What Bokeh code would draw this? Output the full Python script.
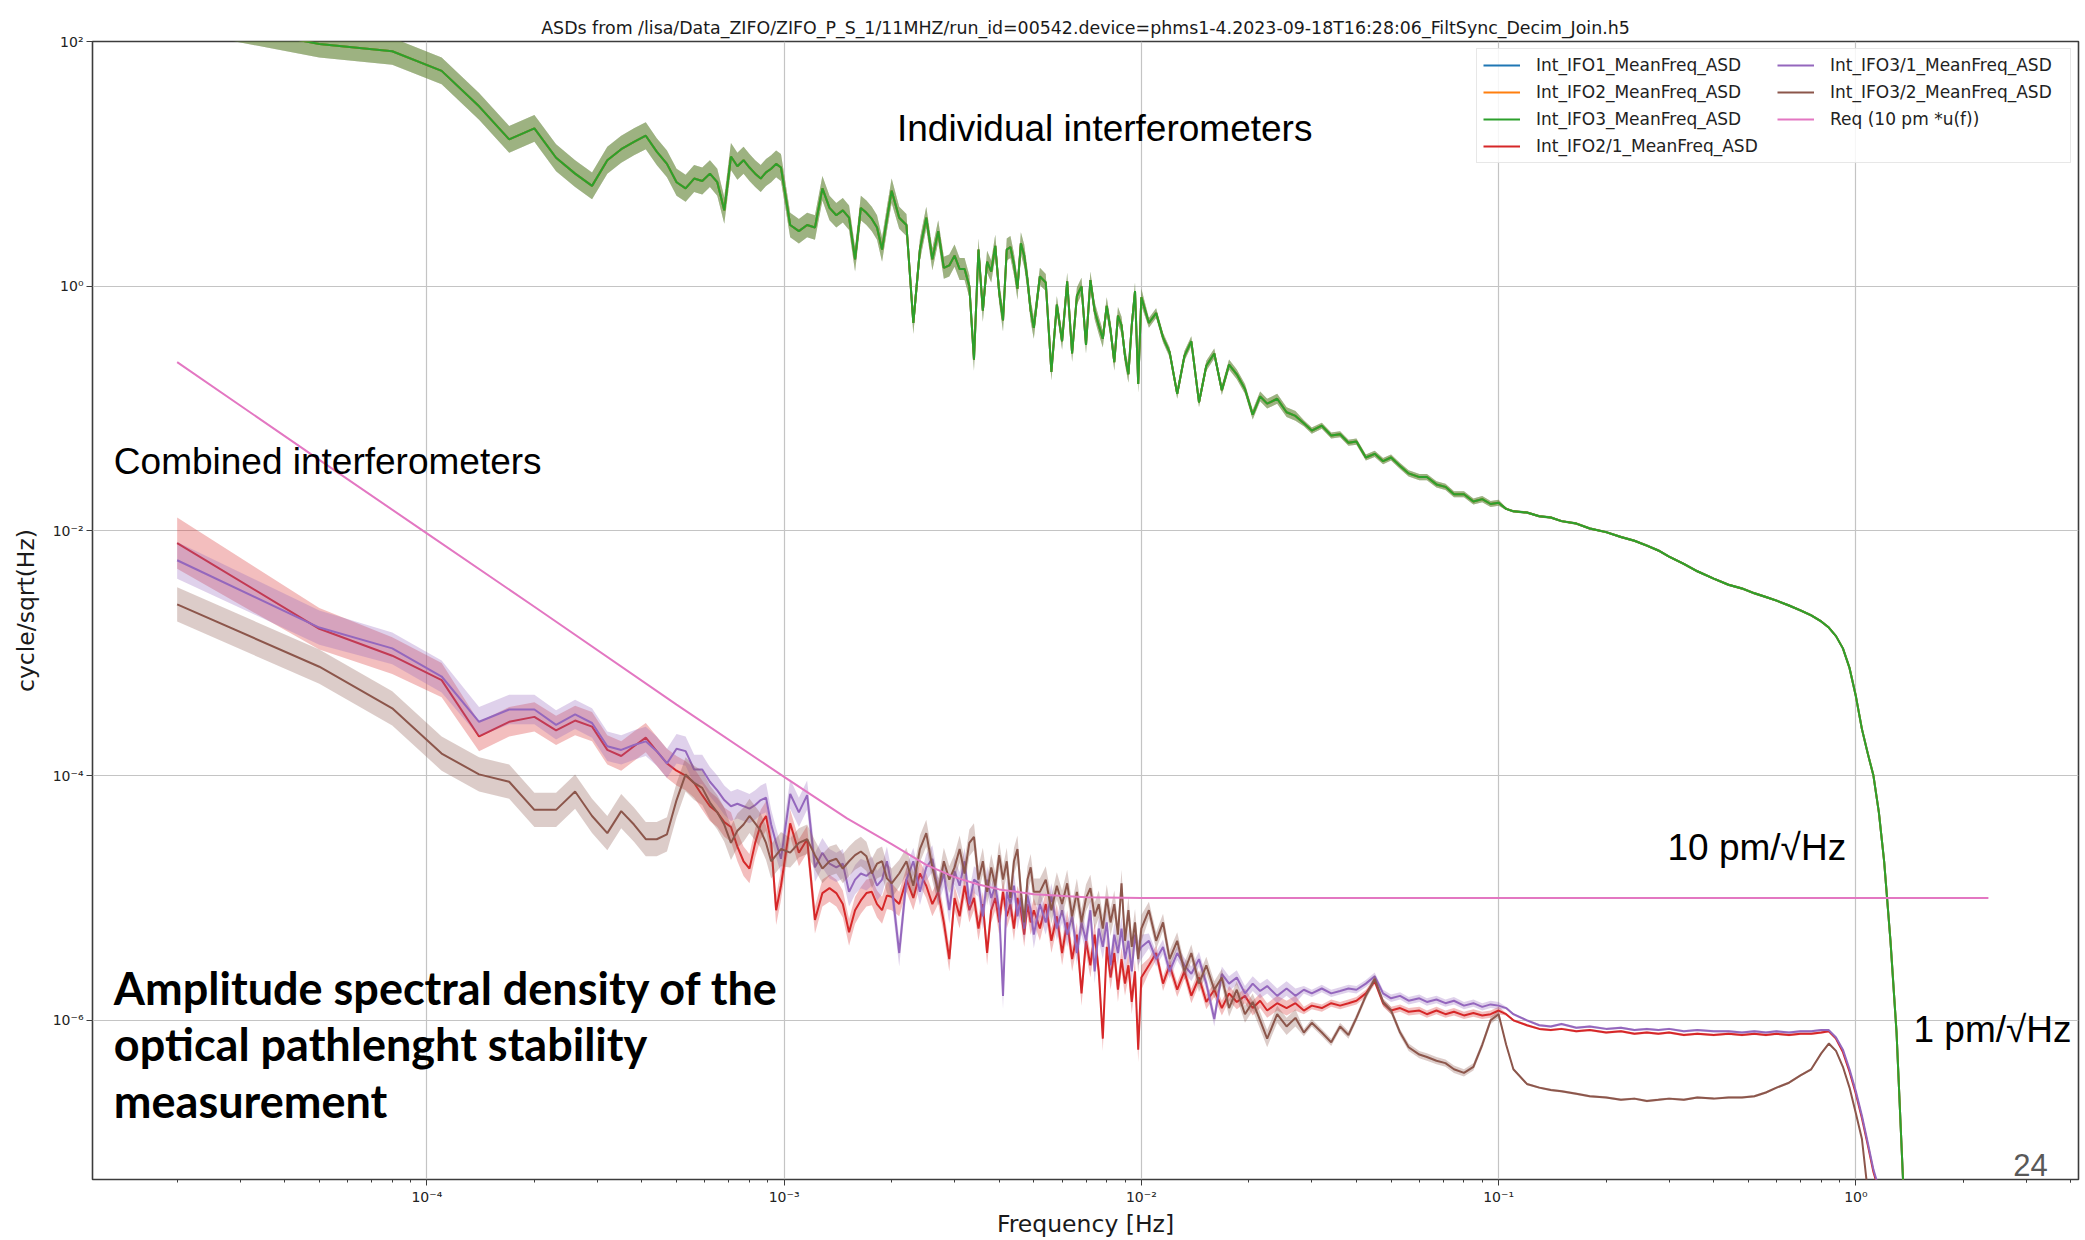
import numpy as np
from bokeh.plotting import figure
from bokeh.models import (FixedTicker, CustomJSTickFormatter, Label, Legend,
                          LegendItem, Range1d)
from bokeh.embed import file_html
from bokeh.resources import INLINE

# ---------------------------------------------------------------- data
# frequency bins [Hz]
FREQ = [
    # 2e-5 .. 1e-3
    2.0e-5, 5.0e-5, 8.0e-5, 1.1e-4, 1.4e-4, 1.7e-4, 2.0e-4, 2.3e-4, 2.6e-4, 2.9e-4,
    3.2e-4, 3.5e-4, 3.8e-4, 4.1e-4, 4.4e-4, 4.7e-4, 5.0e-4, 5.3e-4, 5.6e-4, 5.9e-4,
    6.2e-4, 6.5e-4, 6.8e-4, 7.1e-4, 7.4e-4, 7.7e-4, 8.0e-4, 8.3e-4, 8.6e-4, 8.9e-4,
    9.2e-4, 9.5e-4, 9.8e-4,
    # 1e-3 .. 2e-3
    1.04e-3, 1.10e-3, 1.16e-3, 1.22e-3, 1.28e-3, 1.34e-3, 1.40e-3, 1.46e-3, 1.52e-3,
    1.58e-3, 1.64e-3, 1.70e-3, 1.76e-3, 1.82e-3, 1.88e-3, 1.94e-3, 2.00e-3,
    # 2e-3 .. 5e-3
    2.1e-3, 2.2e-3, 2.3e-3, 2.4e-3, 2.5e-3, 2.6e-3, 2.7e-3, 2.8e-3, 2.9e-3, 3.0e-3,
    3.1e-3, 3.2e-3, 3.3e-3, 3.4e-3, 3.5e-3, 3.6e-3, 3.7e-3, 3.8e-3, 3.9e-3, 4.0e-3,
    4.1e-3, 4.2e-3, 4.3e-3, 4.4e-3, 4.5e-3, 4.6e-3, 4.7e-3, 4.8e-3, 4.9e-3, 5.0e-3,
    # 5e-3 .. 1e-2
    5.2e-3, 5.4e-3, 5.6e-3, 5.8e-3, 6.0e-3, 6.2e-3, 6.4e-3, 6.6e-3, 6.8e-3, 7.0e-3,
    7.2e-3, 7.4e-3, 7.6e-3, 7.8e-3, 8.0e-3, 8.2e-3, 8.4e-3, 8.6e-3, 8.8e-3, 9.0e-3,
    9.2e-3, 9.4e-3, 9.6e-3, 9.8e-3, 1.0e-2,
    # 1e-2 .. 1e-1
    1.05e-2, 1.1e-2, 1.15e-2, 1.2e-2, 1.26e-2, 1.32e-2, 1.38e-2, 1.45e-2, 1.52e-2, 1.6e-2,
    1.68e-2, 1.76e-2, 1.85e-2, 1.95e-2, 2.05e-2, 2.15e-2, 2.25e-2, 2.4e-2, 2.55e-2, 2.7e-2,
    2.85e-2, 3.0e-2, 3.2e-2, 3.4e-2, 3.6e-2, 3.8e-2, 4.0e-2, 4.25e-2, 4.5e-2, 4.75e-2,
    5.0e-2, 5.3e-2, 5.6e-2, 6.0e-2, 6.3e-2, 6.7e-2, 7.1e-2, 7.5e-2, 8.0e-2, 8.5e-2,
    9.0e-2, 9.5e-2, 1.0e-1,
    # 1e-1 .. 1.4
    0.105, 0.11, 0.12, 0.13, 0.14, 0.15, 0.165, 0.18, 0.2, 0.22,
    0.24, 0.26, 0.28, 0.3, 0.33, 0.36, 0.4, 0.44, 0.48, 0.52,
    0.56, 0.6, 0.65, 0.7, 0.75, 0.8, 0.84, 0.88, 0.92, 0.96,
    1.0, 1.04, 1.08, 1.12, 1.16, 1.2, 1.25, 1.3, 1.36, 1.42,
]

# ASD values, given as log10(cycle/sqrt(Hz))
IFO3_LOG = [
    2.20, 1.98, 1.92, 1.76, 1.47, 1.20, 1.29, 1.05, 0.92, 0.82,
    1.03, 1.12, 1.18, 1.23, 1.10, 1.00, 0.85, 0.80, 0.88, 0.86,
    0.92, 0.85, 0.62, 1.06, 0.98, 1.03, 0.97, 0.92, 0.88, 0.93,
    0.96, 1.00, 0.97,
    0.50, 0.45, 0.50, 0.48, 0.80, 0.64, 0.58, 0.62, 0.56, 0.22,
    0.64, 0.60, 0.55, 0.48, 0.30, 0.55, 0.78,
    0.56, 0.50, -0.30, 0.30, 0.56, 0.22, 0.45, 0.15, 0.17, 0.25,
    0.14, 0.14, 0.00, -0.60, 0.30, -0.20, 0.20, 0.12, 0.33, -0.05,
    -0.28, 0.30, 0.32, 0.18, -0.02, 0.35, 0.25, 0.05, -0.20, -0.34,
    0.08, 0.03, -0.70, -0.15, -0.45, 0.04, -0.55, -0.08, 0.00, -0.48,
    0.05, -0.20, -0.32, -0.43, -0.16, -0.36, -0.62, -0.24, -0.32, -0.57,
    -0.72, -0.32, -0.04, -0.80, -0.09,
    -0.30, -0.22, -0.42, -0.54, -0.88, -0.57, -0.45, -0.95, -0.65, -0.55,
    -0.85, -0.64, -0.72, -0.84, -1.05, -0.90, -0.96, -0.92, -1.03, -1.06,
    -1.12, -1.18, -1.14, -1.22, -1.21, -1.28, -1.27, -1.40, -1.37, -1.43,
    -1.40, -1.47, -1.53, -1.56, -1.56, -1.62, -1.64, -1.70, -1.70, -1.76,
    -1.74, -1.78, -1.77,
    -1.82, -1.84, -1.85, -1.88, -1.89, -1.92, -1.94, -1.98, -2.01, -2.05,
    -2.08, -2.12, -2.16, -2.21, -2.27, -2.33, -2.39, -2.44, -2.47, -2.51,
    -2.54, -2.57, -2.61, -2.65, -2.69, -2.74, -2.79, -2.86, -2.96, -3.12,
    -3.35, -3.62, -3.82, -4.00, -4.30, -4.70, -5.35, -6.10, -7.40, -8.30,
]
# IFO1 and IFO2 coincide with IFO3 and lie hidden beneath it
IFO1_LOG = list(IFO3_LOG)
IFO2_LOG = list(IFO3_LOG)

IFO21_LOG = [
    -2.10, -2.80, -3.02, -3.22, -3.68, -3.56, -3.52, -3.63, -3.55, -3.60,
    -3.79, -3.84, -3.76, -3.69, -3.80, -3.90, -3.96, -4.00, -4.06, -4.16,
    -4.25, -4.30, -4.38, -4.42, -4.58, -4.70, -4.76, -4.55, -4.40, -4.33,
    -4.55, -5.10, -4.90,
    -4.39, -4.63, -4.52, -5.18, -4.96, -4.92, -4.96, -5.05, -5.28, -5.10,
    -5.02, -4.96, -4.95, -5.05, -5.10, -4.98, -4.99,
    -5.05, -4.85, -5.00, -4.80, -4.90, -5.05, -4.95, -5.20, -5.50, -5.00,
    -5.15, -4.90, -5.10, -5.00, -5.25, -5.05, -5.45, -5.10, -5.00, -5.20,
    -4.95, -5.15, -5.05, -5.25, -5.00, -5.10, -5.30, -5.05, -5.20, -5.10,
    -5.25, -5.05, -5.35, -5.15, -5.45, -5.20, -5.50, -5.30, -5.78, -5.35,
    -5.55, -5.30, -5.60, -6.15, -5.40, -5.65, -5.45, -5.75, -5.50, -5.70,
    -5.55, -5.85, -5.60, -6.24, -5.65,
    -5.55, -5.45, -5.70, -5.55, -5.75, -5.60, -5.80, -5.65, -5.85, -5.75,
    -5.90, -5.78, -5.85, -5.80, -5.90, -5.84, -5.92, -5.86, -5.90, -5.86,
    -5.92, -5.88, -5.90, -5.86, -5.88, -5.86, -5.84, -5.78, -5.68, -5.86,
    -5.92, -5.90, -5.93, -5.92, -5.95, -5.92, -5.95, -5.93, -5.96, -5.94,
    -5.96, -5.95, -5.92,
    -5.95, -6.00, -6.04, -6.07, -6.08, -6.07, -6.09, -6.08, -6.10, -6.09,
    -6.11, -6.10, -6.11, -6.10, -6.12, -6.11, -6.12, -6.11, -6.12, -6.11,
    -6.12, -6.11, -6.12, -6.11, -6.11, -6.10, -6.09, -6.15, -6.26, -6.42,
    -6.60, -6.80, -7.02, -7.24, -7.39, -7.57, -7.80, -8.00, -8.20, -8.40,
]

IFO31_LOG = [
    -2.24, -2.79, -2.96, -3.19, -3.56, -3.46, -3.46, -3.585, -3.50, -3.57,
    -3.76, -3.79, -3.75, -3.72, -3.80, -3.90, -3.78, -3.80, -3.95, -3.95,
    -4.05, -4.12, -4.20, -4.25, -4.23, -4.25, -4.27, -4.24, -4.20, -4.18,
    -4.40, -4.55, -4.68,
    -4.15, -4.30, -4.16, -4.75, -4.63, -4.72, -4.75, -4.72, -4.95, -4.85,
    -4.80, -4.82, -4.78, -4.90, -4.85, -4.70, -4.90,
    -5.45, -4.85, -4.70, -4.95, -4.75, -4.68, -4.95, -4.80, -5.10, -4.78,
    -4.90, -4.70, -5.05, -4.85, -4.88, -5.15, -4.85, -5.00, -4.90, -5.10,
    -5.80, -4.95, -5.05, -4.90, -5.15, -5.00, -5.25, -4.98, -5.10, -5.30,
    -5.05, -5.20, -4.98, -5.25, -5.10, -5.30, -5.15, -5.45, -5.20, -5.35,
    -5.10, -5.60, -5.25, -5.40, -5.20, -5.55, -5.30, -5.45, -5.25, -5.50,
    -5.35, -5.60, -5.30, -5.45, -5.40,
    -5.35, -5.50, -5.40, -5.60, -5.45, -5.55, -5.62, -5.50, -5.70, -5.99,
    -5.62, -5.70, -5.65, -5.78, -5.70, -5.76, -5.72, -5.80, -5.74, -5.80,
    -5.75, -5.78, -5.74, -5.78, -5.76, -5.74, -5.75, -5.70, -5.64, -5.78,
    -5.82, -5.80, -5.84, -5.82, -5.85, -5.83, -5.86, -5.84, -5.88, -5.86,
    -5.89, -5.87, -5.88,
    -5.90, -5.95, -6.00, -6.04, -6.05, -6.03, -6.06, -6.05, -6.07, -6.06,
    -6.08, -6.07, -6.08, -6.07, -6.09, -6.08, -6.09, -6.09, -6.10, -6.09,
    -6.10, -6.09, -6.10, -6.09, -6.09, -6.08, -6.08, -6.14, -6.24, -6.40,
    -6.58, -6.78, -7.00, -7.22, -7.37, -7.55, -7.80, -8.00, -8.20, -8.40,
]

IFO32_LOG = [
    -2.60, -3.11, -3.45, -3.82, -3.99, -4.05, -4.28, -4.28, -4.13, -4.33,
    -4.47, -4.29, -4.40, -4.52, -4.52, -4.48, -4.20, -3.99, -4.06, -4.10,
    -4.22, -4.30, -4.40, -4.55, -4.45, -4.40, -4.33, -4.39, -4.45, -4.55,
    -4.70, -4.65, -4.60,
    -4.63, -4.55, -4.52, -4.65, -4.76, -4.70, -4.68, -4.76, -4.70, -4.65,
    -4.62, -4.66, -4.80, -4.72, -4.70, -4.84, -4.88,
    -4.80, -4.70, -4.90, -4.60, -4.47, -4.75, -4.95, -4.70, -4.85, -4.75,
    -4.60, -4.80, -4.55, -4.50, -4.85, -4.70, -4.95, -4.75, -4.90, -4.65,
    -4.85, -4.70, -5.00, -4.70, -4.60, -4.95, -5.20, -4.85, -4.75, -4.95,
    -4.95, -4.85, -5.10, -4.90, -5.05, -4.88, -5.15, -4.95, -5.20, -5.00,
    -4.92, -5.15, -5.05, -5.25, -5.00, -5.20, -5.05, -5.30, -4.88, -5.35,
    -5.10, -5.40, -5.20, -5.50, -5.25,
    -5.10, -5.35, -5.20, -5.50, -5.35, -5.60, -5.45, -5.70, -5.55, -5.75,
    -5.65, -5.90, -5.75, -5.95, -5.85, -6.00, -6.15, -5.95, -6.05, -5.98,
    -6.10, -6.02, -6.10, -6.18, -6.05, -6.12, -5.98, -5.80, -5.66, -5.85,
    -5.92, -6.10, -6.22, -6.28, -6.30, -6.33, -6.35, -6.40, -6.43, -6.38,
    -6.20, -6.00, -5.95,
    -6.20, -6.40, -6.52, -6.55, -6.57, -6.58, -6.60, -6.62, -6.63, -6.65,
    -6.64, -6.66, -6.65, -6.64, -6.65, -6.63, -6.64, -6.63, -6.63, -6.62,
    -6.59, -6.55, -6.51, -6.45, -6.40, -6.27, -6.19, -6.25, -6.38, -6.55,
    -6.76, -6.97, -7.40, -7.80, -8.10, -8.30, -8.50, -8.60, -8.70, -8.80,
]

# half-width of the shaded uncertainty band, in decades
IFO_SPREAD = [0.11] * 33 + [0.10] * 17 + [0.09] * 30 + [0.07] * 25 + [0.04] * 20 + [0.025] * 23 + [0.01] * 40
IFO21_SPREAD = [0.21, 0.17, 0.15, 0.14] + [0.12] * 29 + [0.11] * 17 + [0.10] * 30 + [0.10] * 25 + [0.06] * 20 + [0.03] * 23 + [0.01] * 40
IFO31_SPREAD = [0.15, 0.14, 0.13, 0.13] + [0.12] * 29 + [0.12] * 17 + [0.11] * 30 + [0.10] * 25 + [0.06] * 20 + [0.03] * 23 + [0.01] * 40
IFO32_SPREAD = [0.14] * 33 + [0.12] * 17 + [0.11] * 30 + [0.11] * 25 + [0.07] * 20 + [0.03] * 23 + [0.01] * 40

# requirement curve "Req (10 pm *u(f))"
REQ_FREQ = [2e-5, 5e-5, 1e-4, 2e-4, 5e-4, 1e-3, 1.5e-3, 2e-3, 2.5e-3, 3e-3, 3.5e-3,
            4e-3, 5e-3, 7e-3, 1e-2, 3e-2, 2.35]
REQ_LOG = [-0.62, -1.42, -2.02, -2.62, -3.42, -4.01, -4.35, -4.56, -4.73, -4.83, -4.89,
           -4.93, -4.97, -4.995, -5.0, -5.0, -5.0]

SERIES = [
    ("Int_IFO1_MeanFreq_ASD", IFO1_LOG, IFO_SPREAD, "#1f77b4"),
    ("Int_IFO2_MeanFreq_ASD", IFO2_LOG, IFO_SPREAD, "#ff7f0e"),
    ("Int_IFO3_MeanFreq_ASD", IFO3_LOG, IFO_SPREAD, "#2ca02c"),
    ("Int_IFO2/1_MeanFreq_ASD", IFO21_LOG, IFO21_SPREAD, "#d62728"),
    ("Int_IFO3/1_MeanFreq_ASD", IFO31_LOG, IFO31_SPREAD, "#9467bd"),
    ("Int_IFO3/2_MeanFreq_ASD", IFO32_LOG, IFO32_SPREAD, "#8c564b"),
]
for _, arr, spr, _c in SERIES:
    assert len(arr) == len(FREQ) and len(spr) == len(FREQ)

TITLE = ("ASDs from /lisa/Data_ZIFO/ZIFO_P_S_1/11MHZ/run_id=00542.device=phms1-4."
         "2023-09-18T16:28:06_FiltSync_Decim_Join.h5")

# ---------------------------------------------------------------- figure
p = figure(width=2085, height=1240,
           x_axis_type="log", y_axis_type="log",
           x_range=Range1d(1.159e-5, 4.2), y_range=Range1d(5.0e-8, 100.0),
           output_backend="svg", toolbar_location=None,
           min_border_left=92, min_border_right=7, min_border_top=41, min_border_bottom=55,
           title=TITLE)
p.background_fill_color = "white"
p.border_fill_color = "white"
p.outline_line_color = "#3c3c3c"
p.outline_line_width = 1.6

p.title.text_font = "DejaVu Sans"
p.title.text_font_size = "17.4px"
p.title.text_font_style = "normal"
p.title.text_color = "#1a1a1a"
p.title.align = "center"
p.title.standoff = 8

fmt = CustomJSTickFormatter(code="""
const e = Math.round(Math.log10(tick));
const m = {'-':'\u207b','0':'\u2070','1':'\u00b9','2':'\u00b2','3':'\u00b3','4':'\u2074',
           '5':'\u2075','6':'\u2076','7':'\u2077','8':'\u2078','9':'\u2079'};
return '10' + String(e).split('').map(c => m[c]).join('');
""")

x_minor = [m * 10.0 ** d for d in range(-5, 1) for m in range(2, 10)] + [2.0, 3.0, 4.0]
p.xaxis.ticker = FixedTicker(ticks=[1e-4, 1e-3, 1e-2, 1e-1, 1.0], minor_ticks=x_minor)
p.yaxis.ticker = FixedTicker(ticks=[1e-6, 1e-4, 1e-2, 1.0, 100.0], minor_ticks=[])
p.xaxis.formatter = fmt
p.yaxis.formatter = fmt

for ax in (p.xaxis[0], p.yaxis[0]):
    ax.axis_line_color = None
    ax.major_tick_line_color = "#3c3c3c"
    ax.minor_tick_line_color = "#3c3c3c"
    ax.major_tick_out = 6
    ax.major_tick_in = 0
    ax.minor_tick_out = 3
    ax.minor_tick_in = 0
    ax.major_label_text_font = "DejaVu Sans"
    ax.major_label_text_font_size = "14px"
    ax.major_label_text_color = "#222222"
    ax.major_label_standoff = 3
    ax.axis_label_text_font = "DejaVu Sans"
    ax.axis_label_text_font_size = "23.5px"
    ax.axis_label_text_font_style = "normal"
    ax.axis_label_text_color = "#1a1a1a"

p.xaxis.axis_label = "Frequency [Hz]"
p.yaxis.axis_label = "cycle/sqrt(Hz)"
p.xaxis.axis_label_standoff = 2
p.yaxis.axis_label_standoff = 10

p.grid.grid_line_color = "#c4c4c4"
p.grid.grid_line_width = 1.2

freq = np.array(FREQ)
items = []
for name, arr, spr, color in SERIES:
    lg = np.array(arr)
    sp = np.array(spr)
    p.varea(x=freq, y1=10 ** (lg - sp), y2=10 ** (lg + sp),
            fill_color=color, fill_alpha=0.3)
    r = p.line(freq, 10 ** lg, line_color=color, line_width=2)
    items.append(LegendItem(label=name, renderers=[r]))

r_req = p.line(np.array(REQ_FREQ), 10 ** np.array(REQ_LOG), line_color="#e377c2", line_width=2)
items.append(LegendItem(label="Req (10 pm *u(f))", renderers=[r_req]))

legend = Legend(items=items, location="top_right", nrows=4, orientation="vertical",
                label_text_font="DejaVu Sans", label_text_font_size="17px",
                label_text_color="#222222",
                glyph_width=37, glyph_height=20, label_height=20, label_width=234,
                label_standoff=16, spacing=7, padding=6, margin=7,
                border_line_color="#cfcfcf", border_line_width=1,
                background_fill_color="white", background_fill_alpha=0.85)
p.add_layout(legend)

# ---------------------------------------------------------------- slide annotations
def add_label(x, y, text, size, font="Liberation Sans", style="normal", color="black"):
    p.add_layout(Label(x=x, y=y, text=text, text_font=font, text_font_size=size,
                       text_font_style=style, text_color=color,
                       text_align="left", text_baseline="middle"))

add_label(2.07e-3, 19.6, "Individual interferometers", "37px")
add_label(1.33e-5, 0.0371, "Combined interferometers", "37px")
add_label(0.297, 2.6e-5, "10 pm/\u221aHz", "37px")
add_label(1.45, 8.45e-7, "1 pm/\u221aHz", "37px")
add_label(2.76, 6.6e-8, "24", "31px", color="#595959")
add_label(1.33e-5, 1.854e-6, "Amplitude spectral density of the", "45px", font="Lato", style="bold")
add_label(1.33e-5, 6.37e-7, "optical pathlenght stability", "45px", font="Lato", style="bold")
add_label(1.33e-5, 2.2e-7, "measurement", "45px", font="Lato", style="bold")

open("out.html", "w").write(file_html(p, INLINE))
